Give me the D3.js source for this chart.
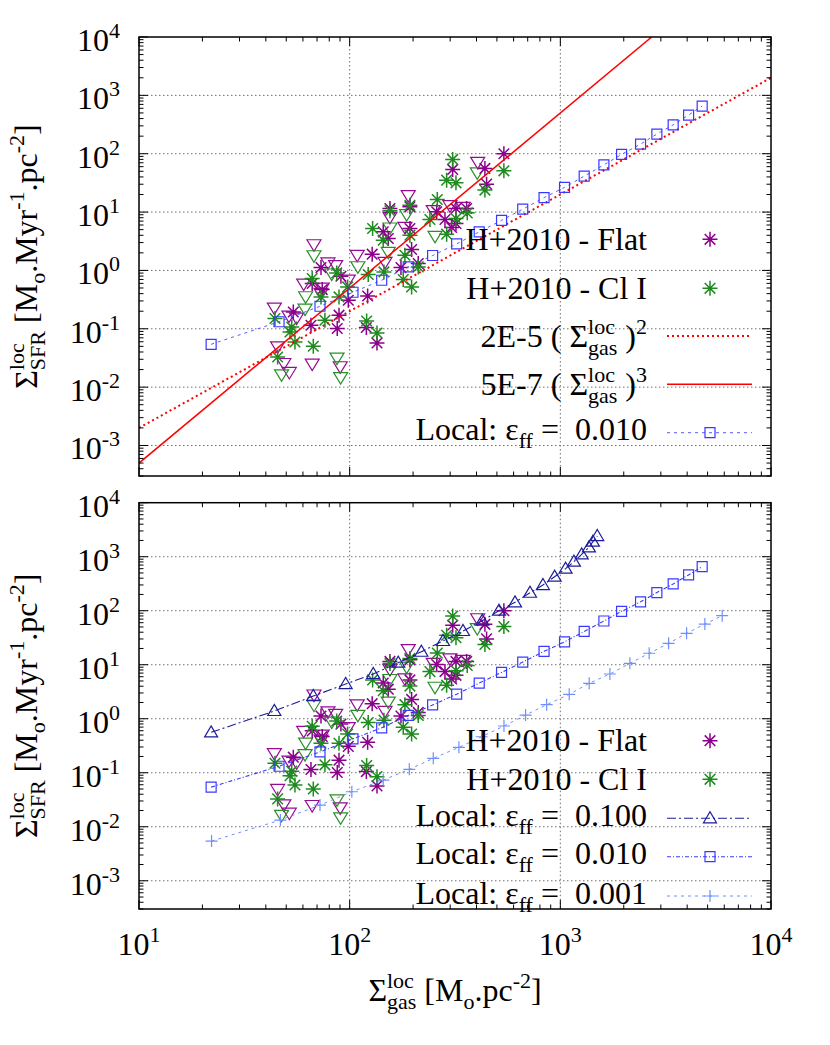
<!DOCTYPE html>
<html>
<head>
<meta charset="utf-8">
<script src="https://cdn.jsdelivr.net/npm/d3@7"></script>
<style>
  body { margin: 0; background: #fff; }
</style>
</head>
<body>
<svg id="chart" width="830" height="1045" font-family="'Liberation Serif', 'Times New Roman', Times, serif"></svg>
<script>
const flatX = [73.1, 90.9, 66.4, 74.1, 54.0, 65.5, 89.0, 87.3, 121.7, 120, 134.8, 127.9, 98.5, 175.2,
  539.5, 438.5, 308.3, 446.7, 155.3, 193.2, 359, 319.6, 283.4, 319.6, 258.8, 144.3, 152.5, 193.2, 196.8, 211.6, 304.7];
const flatY = [1.12, 0.795, 0.596, 0.470, 0.194, 0.115, 0.171, 0.101, 0.365, 0.105, 0.0571, 1.90, 0.308, 1.12,
  100, 56.0, 53.8, 30.1, 11.5, 12.3, 11.5, 11.5, 7.47, 6.37, 10.1, 4.58, 3.53, 5.23, 2.28, 1.31, 5.44];

const clX = [66.4, 86.8, 73.1, 89.0, 44.2, 53.1, 52.1, 55.0, 67.2, 76.3, 45.5, 120.4, 134.8, 122.5, 145.4, 179.6, 97.8,
  308.3, 539.5, 288.6, 319.6, 438.5, 155.3, 193.2, 260.6, 240.4, 319.6, 361.5, 128.5, 193.2, 288.6, 144.3, 182.9, 211.6, 196.8];
const clY = [0.726, 0.906, 0.351, 0.351, 0.150, 0.107, 0.0881, 0.0594, 0.0501, 0.140, 0.0328, 0.136, 0.0847, 0.851, 0.942, 0.698, 0.521,
  79.9, 50.9, 35.2, 31.7, 23.8, 10.5, 13.1, 16.4, 7.47, 7.77, 9.69, 5.23, 4.02, 4.18, 3.30, 1.82, 1.15, 0.521];

// open down-triangles (same colours, no key entry)
const flatLimX = [67.7, 78.9, 85.8, 60.5, 74.1, 43.9, 51.5, 45.5, 66.4, 51.7, 108.6, 98.5, 48.7, 90.2, 56.0, 73.1,
  405.2, 189.7, 155.3, 182.9, 249.3, 299.2, 346, 147.1];
const flatLimY = [2.81, 1.37, 1.23, 0.596, 0.509, 0.231, 0.168, 0.0501, 0.0253, 0.0182, 1.85, 0.698, 0.0259, 0.0228, 0.155, 0.411,
  72.6, 19.5, 8.28, 5.57, 10.8, 13.1, 12.3, 1.40];
const clLimX = [67.7, 109.4, 61.8, 61.4, 87.1, 90.6, 47.5, 82.2, 403.4, 186.4, 155.3, 254.2, 152.5];
const clLimY = [1.82, 1.18, 0.361, 0.222, 0.0321, 0.0149, 0.0166, 0.885, 47.8, 9.2, 5.44, 3.91, 2.08];

// power laws, end points of the drawn segments
const quadX = [10, 10000];
const quadY = [0.002, 2000];
const cubeX = [10, 2714];
const cubeY = [0.0005, 10000];

// local models
const loc010X = [22.0, 46.2, 72.3, 103.7, 141.9, 189.7, 247.6, 322, 412, 526, 663, 837, 1047, 1298, 1610, 1953, 2403, 2872, 3433, 4063, 4713];
const loc010Y = [0.0542, 0.132, 0.243, 0.423, 0.679, 1.15, 1.80, 2.85, 4.57, 7.21, 11.2, 17.7, 26.5, 41.3, 64.5, 97.3, 146, 217, 313, 460, 655];
const loc100X = [22.0, 43.9, 67.2, 95.7, 129.4, 170.1, 218.9, 277.4, 345.1, 425.9, 511.3, 609.5, 717.9, 826.7, 939.6, 1059, 1160, 1263, 1367, 1428, 1497];
const loc100Y = [0.56, 1.39, 2.63, 4.39, 6.73, 10.9, 17.4, 27.5, 42.1, 65.3, 100, 143, 215, 299, 426, 600, 808, 1107, 1492, 1897, 2415];
const loc001X = [22.1, 46.9, 72.3, 102.4, 144.3, 191.9, 249.4, 330, 423, 540, 684, 861, 1102, 1371, 1719, 2138, 2641, 3266, 3975, 4853, 5865];
const loc001Y = [0.00543, 0.0133, 0.0252, 0.0445, 0.0733, 0.1156, 0.185, 0.295, 0.464, 0.733, 1.17, 1.82, 2.83, 4.53, 6.73, 10.6, 16.3, 24.9, 38.1, 56.7, 80.8];

const xDomain = [10, 10000];
const yDomain = [3e-4, 10000];

const FONT = "'Liberation Serif', 'Times New Roman', Times, serif";
const BIG = 32, SMALL = 22;
const svg = d3.select('#chart');

// text with gnuplot-like super/subscripts; parts = [text, kind(, sub)]
function rich(g, parts, x, y, anchor) {
  const grp = g.append('g');
  let cx = 0;
  const put = (t, px, py, size) => grp.append('text').attr('x', px).attr('y', py)
    .attr('font-family', FONT).attr('font-size', size).attr('fill', '#000')
    .text(t.replace(/ /g, '\u00a0'));
  parts.forEach(p => {
    const kind = p[1];
    if (kind === 's') {
      const a = put(p[0], cx, -13, SMALL);
      const b = put(p[2], cx, 8, SMALL);
      cx += Math.max(a.node().getComputedTextLength(), b.node().getComputedTextLength());
    } else {
      const dy = kind === 'p' ? -13 : kind === 'b' ? 8 : 0;
      const t = put(p[0], cx, dy, kind === 'n' ? BIG : SMALL);
      cx += t.node().getComputedTextLength();
    }
  });
  const shift = anchor === 'end' ? -cx : anchor === 'middle' ? -cx / 2 : 0;
  grp.attr('transform', `translate(${x + shift},${y})`);
  return grp;
}

const marks = {
  star: 'M-7.5,0H7.5M0,-7.5V7.5M-5.3,-5.3L5.3,5.3M-5.3,5.3L5.3,-5.3',
  tri: 'M-7,-4.5L7,-4.5L0,7Z',
  triUp: 'M-6.5,4.5L6.5,4.5L0,-6.5Z',
  square: 'M-5,-5H5V5H-5Z',
  plus: 'M-6,0H6M0,-6V6'
};

const isDecade = v => Math.abs(Math.log10(v) - Math.round(Math.log10(v))) < 1e-6;

const x = d3.scaleLog().domain(xDomain).range([139, 771]);

function drawPoints(g, xs, ys, y, mark, color, w) {
  g.append('g').selectAll('path').data(d3.zip(xs, ys)).join('path')
    .attr('d', marks[mark])
    .attr('transform', d => `translate(${x(d[0])},${y(d[1])})`)
    .attr('fill', 'none').attr('stroke', color).attr('stroke-width', w);
}

function drawLine(g, xs, ys, y, st) {
  const line = d3.line().x(d => x(d[0])).y(d => y(d[1]));
  g.append('path').datum(d3.zip(xs, ys)).attr('d', line)
    .attr('fill', 'none').attr('stroke', st.color).attr('stroke-width', st.width)
    .attr('stroke-dasharray', st.dash);
  if (st.mark) drawPoints(g, xs, ys, y, st.mark, st.mcolor || st.color, 1.2);
}

const red = '#ff0000', purple = '#8b008b', green = '#1f8a1f';
const quadStyle = { color: red, width: 2, dash: '2,3' };
const cubeStyle = { color: red, width: 1.5, dash: null };
const top010 = { color: '#5a5aff', width: 1, dash: '3,4', mark: 'square', mcolor: '#3838ff' };
const bot100 = { color: '#1c1c9a', width: 1.1, dash: '9,3,2,3', mark: 'triUp' };
const bot010 = { color: '#3a3aff', width: 1.1, dash: '4,2,1,2', mark: 'square' };
const bot001 = { color: '#6f8fff', width: 1, dash: '3,4', mark: 'plus' };

const panels = [
  {
    top: 37, bottom: 476, xLabels: false,
    series: [[quadX, quadY, quadStyle], [cubeX, cubeY, cubeStyle], [loc010X, loc010Y, top010]],
    legend: [
      { parts: [['H+2010 - Flat', 'n']], star: purple },
      { parts: [['H+2010 - Cl I', 'n']], star: green },
      { parts: [['2E-5 ( Σ', 'n'], ['loc', 's', 'gas'], [' )', 'n'], ['2', 'p']], st: quadStyle },
      { parts: [['5E-7 ( Σ', 'n'], ['loc', 's', 'gas'], [' )', 'n'], ['3', 'p']], st: cubeStyle },
      { parts: [['Local: ε', 'n'], ['ff', 'b'], [' =  0.010', 'n']], st: top010, sub: true }
    ],
    rows: [239.3, 288.3, 336, 384.3, 432.7]
  },
  {
    top: 502.7, bottom: 909, xLabels: true,
    series: [[loc100X, loc100Y, bot100], [loc010X, loc010Y, bot010], [loc001X, loc001Y, bot001]],
    legend: [
      { parts: [['H+2010 - Flat', 'n']], star: purple },
      { parts: [['H+2010 - Cl I', 'n']], star: green },
      { parts: [['Local: ε', 'n'], ['ff', 'b'], [' =  0.100', 'n']], st: bot100, sub: true },
      { parts: [['Local: ε', 'n'], ['ff', 'b'], [' =  0.010', 'n']], st: bot010, sub: true },
      { parts: [['Local: ε', 'n'], ['ff', 'b'], [' =  0.001', 'n']], st: bot001, sub: true }
    ],
    rows: [740.7, 779.3, 818.3, 856.7, 896]
  }
];

panels.forEach((p, i) => {
  const y = d3.scaleLog().domain(yDomain).range([p.bottom, p.top]);
  const g = svg.append('g');
  const [x0, x1] = x.range();

  // grid
  const grid = g.append('g').attr('stroke', '#707070').attr('stroke-width', 1).attr('stroke-dasharray', '1.5,2.5');
  grid.selectAll('.gx').data(x.ticks().filter(v => isDecade(v) && v > xDomain[0] && v < xDomain[1])).join('line')
    .attr('x1', d => x(d)).attr('x2', d => x(d)).attr('y1', p.top).attr('y2', p.bottom);
  grid.selectAll('.gy').data(y.ticks().filter(v => isDecade(v) && v > yDomain[0] && v < yDomain[1])).join('line')
    .attr('y1', d => y(d)).attr('y2', d => y(d)).attr('x1', x0).attr('x2', x1);

  // data
  const clipId = 'clip' + i;
  svg.append('clipPath').attr('id', clipId).append('rect')
    .attr('x', x0).attr('y', p.top).attr('width', x1 - x0).attr('height', p.bottom - p.top);
  const plot = g.append('g').attr('clip-path', `url(#${clipId})`);
  drawPoints(plot, flatLimX, flatLimY, y, 'tri', '#960a96', 1.2);
  drawPoints(plot, clLimX, clLimY, y, 'tri', '#2a8f2a', 1.2);
  drawPoints(plot, flatX, flatY, y, 'star', purple, 1.5);
  drawPoints(plot, clX, clY, y, 'star', green, 1.5);
  p.series.forEach(s => drawLine(plot, s[0], s[1], y, s[2]));

  // ticks on all sides
  const tk = g.append('g').attr('stroke', '#000').attr('stroke-width', 1);
  x.ticks().forEach(v => {
    const len = isDecade(v) ? 9 : 4.5, px = x(v);
    tk.append('line').attr('x1', px).attr('x2', px).attr('y1', p.bottom).attr('y2', p.bottom - len);
    tk.append('line').attr('x1', px).attr('x2', px).attr('y1', p.top).attr('y2', p.top + len);
  });
  y.ticks().forEach(v => {
    const len = isDecade(v) ? 9 : 4.5, py = y(v);
    tk.append('line').attr('y1', py).attr('y2', py).attr('x1', x0).attr('x2', x0 + len);
    tk.append('line').attr('y1', py).attr('y2', py).attr('x1', x1).attr('x2', x1 - len);
  });
  g.append('rect').attr('x', x0).attr('y', p.top).attr('width', x1 - x0).attr('height', p.bottom - p.top)
    .attr('fill', 'none').attr('stroke', '#000').attr('stroke-width', 1.5);

  // tick labels
  y.ticks().filter(isDecade).forEach(v => {
    rich(g, [['10', 'n'], [String(Math.round(Math.log10(v))), 'p']], 120, y(v) + 14, 'end');
  });
  if (p.xLabels) {
    x.ticks().filter(isDecade).forEach(v => {
      rich(g, [['10', 'n'], [String(Math.round(Math.log10(v))), 'p']], x(v), 955, 'middle');
    });
  }

  // y title
  const yt = g.append('g').attr('transform', `translate(37,${(p.top + p.bottom) / 2}) rotate(-90)`);
  rich(yt, [['Σ', 'n'], ['loc', 's', 'SFR'], [' [M', 'n'], ['o', 'b'], ['.Myr', 'n'], ['-1', 'p'],
    ['.pc', 'n'], ['-2', 'p'], [']', 'n']], 0, 0, 'middle');

  // key
  p.legend.forEach((e, j) => {
    const ry = p.rows[j];
    rich(g, e.parts, 647, ry + (e.sub ? 7.5 : 10.5), 'end');
    if (e.star) {
      g.append('path').attr('d', marks.star).attr('transform', `translate(710,${ry})`)
        .attr('fill', 'none').attr('stroke', e.star).attr('stroke-width', 1.5);
    } else {
      g.append('line').attr('x1', 667).attr('x2', 752).attr('y1', ry).attr('y2', ry)
        .attr('stroke', e.st.color).attr('stroke-width', e.st.width).attr('stroke-dasharray', e.st.dash);
      if (e.st.mark) {
        g.append('path').attr('d', marks[e.st.mark]).attr('transform', `translate(710,${ry})`)
          .attr('fill', 'none').attr('stroke', e.st.mcolor || e.st.color).attr('stroke-width', 1.2);
      }
    }
  });
});

// x title
rich(svg, [['Σ', 'n'], ['loc', 's', 'gas'], [' [M', 'n'], ['o', 'b'], ['.pc', 'n'], ['-2', 'p'], [']', 'n']], 455, 1001, 'middle');
</script>
</body>
</html>
